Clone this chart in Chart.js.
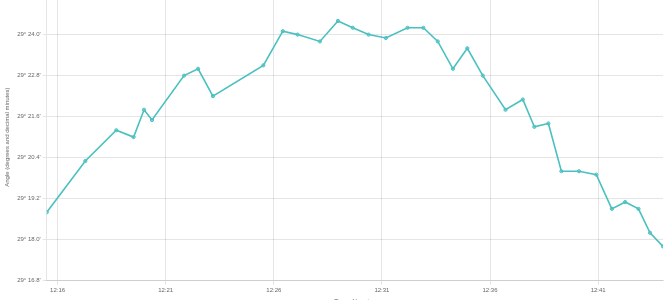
<!DOCTYPE html>
<html>
<head>
<meta charset="utf-8">
<script src="https://cdn.jsdelivr.net/npm/chart.js@4"></script>
<style>
  html, body { margin: 0; padding: 0; background: #fff; overflow: hidden; }
  #wrap { position: absolute; left: 0; top: -12px; width: 669px; height: 321px; }
</style>
</head>
<body>
<div id="wrap"><canvas id="c" width="669" height="321"></canvas></div>
<script>
// Bearing times (hh:mm:ss)
const times = [
  "12:15:30","12:17:17","12:18:43","12:19:31","12:20:00","12:20:22","12:21:51",
  "12:22:30","12:23:11","12:25:31","12:26:25","12:27:06","12:28:08","12:28:58",
  "12:29:39","12:30:23","12:31:11","12:32:11","12:32:55","12:33:35","12:34:17",
  "12:34:57","12:35:40","12:36:43","12:37:31","12:38:03","12:38:42","12:39:18",
  "12:40:07","12:40:55","12:41:38","12:42:15","12:42:52","12:43:24","12:44:00"
];
// Angle: degrees part and decimal minutes
const angleDegrees = 29;
const angleMinutes = [
  18.8, 20.3, 21.2, 21.0, 21.8, 21.5, 22.8,
  23.0, 22.2, 23.1, 24.1, 24.0, 23.8, 24.4,
  24.2, 24.0, 23.9, 24.2, 24.2, 23.8, 23.0,
  23.6, 22.8, 21.8, 22.1, 21.3, 21.4, 20.0,
  20.0, 19.9, 18.9, 19.1, 18.9, 18.2, 17.8
];
// X tick labels
const xTickLabels = ["12:16","12:21","12:26","12:31","12:36","12:41"];
// Y axis range (decimal minutes)
const yMin = 16.8, yMax = 25.2, yStep = 1.2;

function toSec(s) {
  const p = s.split(":").map(Number);
  return p[0] * 3600 + p[1] * 60 + (p[2] || 0);
}
function fmtTime(v) {
  const h = Math.floor(v / 3600), m = Math.floor((v % 3600) / 60);
  return h + ":" + String(m).padStart(2, "0");
}

const points = times.map((t, i) => ({ x: toSec(t), y: angleMinutes[i] }));
const xs = points.map(p => p.x);

const font = { family: "'Helvetica Neue', Helvetica, Arial, sans-serif", size: 6 };

new Chart(document.getElementById("c"), {
  type: "line",
  data: {
    datasets: [{
      label: "Angle",
      data: points,
      borderColor: "rgb(75,192,192)",
      backgroundColor: "rgba(75,192,192,0.4)",
      pointBackgroundColor: "rgba(75,192,192,0.4)",
      pointBorderColor: "rgb(75,192,192)",
      borderWidth: 1.6,
      pointRadius: 1.6,
      pointBorderWidth: 1,
      tension: 0,
      fill: false
    }]
  },
  options: {
    responsive: false,
    animation: false,
    events: [],
    layout: { padding: { left: 0, right: 6, top: 0, bottom: 0 } },
    plugins: { legend: { display: false }, tooltip: { enabled: false } },
    scales: {
      x: {
        type: "linear",
        min: Math.min(...xs),
        max: Math.max(...xs),
        afterBuildTicks: (axis) => {
          axis.ticks = xTickLabels.map(l => ({ value: toSec(l) }));
        },
        ticks: {
          font: font, color: "#666", padding: 2, maxRotation: 0,
          callback: (v) => fmtTime(v)
        },
        grid: { color: "rgba(0,0,0,0.1)", tickLength: 4, lineWidth: 1 },
        border: { color: "rgba(0,0,0,0.1)" },
        title: { display: true, text: "Time of bearing", font: font, color: "#666", padding: { top: 2, bottom: 4 } }
      },
      y: {
        min: yMin, max: yMax,
        ticks: {
          stepSize: yStep, font: font, color: "#666", padding: 2,
          callback: (v) => angleDegrees + "° " + v.toFixed(1) + "'"
        },
        grid: { color: "rgba(0,0,0,0.1)", tickLength: 4, lineWidth: 1 },
        border: { color: "rgba(0,0,0,0.1)" },
        title: { display: true, text: "Angle (degrees and decimal minutes)", font: font, color: "#666", padding: 4 }
      }
    }
  }
});
</script>
</body>
</html>
